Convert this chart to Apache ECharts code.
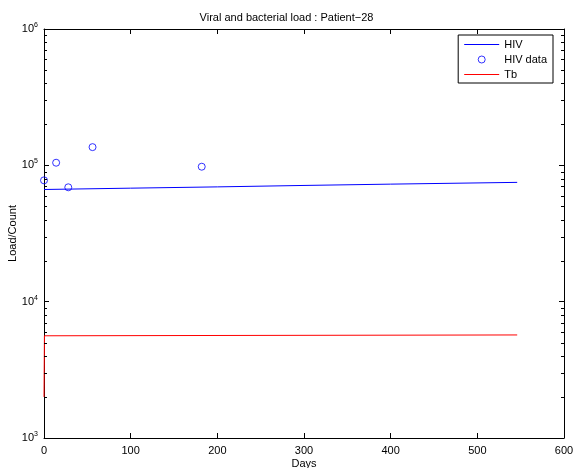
<!DOCTYPE html>
<html>
<head>
<meta charset="utf-8">
<script src="https://cdn.jsdelivr.net/npm/echarts@6/dist/echarts.min.js"></script>
<style>
  html, body { margin: 0; padding: 0; background: #fff; }
  #chart { width: 573px; height: 468px; }
</style>
</head>
<body>
<div id="chart"></div>
<script>
// model curve of HIV load (days, copies)
const hivDays = [0, 100, 200, 300, 400, 546]
const hivLoad = [66500, 68000, 69500, 71200, 72800, 75000]

// measured HIV points
const hivDataDays = [0, 14, 28, 56, 182]
const hivDataLoad = [77600, 104500, 69000, 136000, 97700]

// Tb model curve
const tbDays = [0, 0.5, 546]
const tbLoad = [2000, 5620, 5700]

// minor tick values on the log axis
const minorTicks = []
;[1000, 10000, 100000].forEach(d => {
  for (let k = 2; k <= 9; k++) minorTicks.push(k * d)
})

const font = 'Liberation Sans, Arial, Helvetica, sans-serif'

const pair = (xs, ys) => xs.map((x, i) => [x, ys[i]])

const chart = echarts.init(document.getElementById('chart'), null, { renderer: 'canvas' })

const commonY = {
  type: 'log',
  logBase: 10,
  min: 1000,
  max: 1000000,
  axisLine: { show: true, onZero: false, lineStyle: { color: '#000', width: 1 } },
  axisTick: { show: true, inside: true, length: 5, lineStyle: { color: '#000' } },
  splitLine: { show: false }
}
const commonX = {
  type: 'value',
  min: 0,
  max: 600,
  interval: 100,
  axisLine: { show: true, onZero: false, lineStyle: { color: '#000', width: 1 } },
  axisTick: { show: true, inside: true, length: 5, lineStyle: { color: '#000' } },
  splitLine: { show: false }
}

// thin bar used as legend icon for the line series
const lineIcon = 'path://M0,0h35v1h-35z'

chart.setOption({
  animation: false,
  backgroundColor: '#fff',
  textStyle: { fontFamily: font },
  title: {
    text: 'Viral and bacterial load : Patient\u221228',
    left: 'center',
    top: 7,
    textStyle: { fontSize: 11, fontWeight: 'normal', color: '#000', fontFamily: font }
  },
  grid: { left: 44, right: 9, top: 29, bottom: 30, containLabel: false, outerBoundsMode: 'none' },
  legend: {
    right: 20,
    top: 35,
    orient: 'vertical',
    itemWidth: 35,
    itemHeight: 7,
    itemGap: 4,
    padding: [4, 6, 3, 6],
    borderColor: '#000',
    borderWidth: 1,
    borderRadius: 0,
    backgroundColor: '#fff',
    textStyle: { fontSize: 11, color: '#000', fontFamily: font },
    data: [
      { name: 'HIV', icon: lineIcon },
      {
        name: 'HIV data',
        icon: 'circle',
        itemStyle: { color: 'rgba(0,0,0,0)', borderColor: '#0000ff', borderWidth: 1 }
      },
      { name: 'Tb', icon: lineIcon }
    ]
  },
  xAxis: [
    Object.assign({}, commonX, {
      position: 'bottom',
      name: 'Days',
      nameLocation: 'middle',
      nameGap: 20,
      nameMoveOverlap: false,
      nameTextStyle: { fontSize: 11, color: '#000' },
      axisLabel: { fontSize: 11, color: '#000', margin: 7 }
    }),
    Object.assign({}, commonX, { position: 'top', axisLabel: { show: false } })
  ],
  yAxis: [
    Object.assign({}, commonY, {
      position: 'left',
      name: 'Load/Count',
      nameLocation: 'middle',
      nameGap: 26,
      nameMoveOverlap: false,
      nameTextStyle: { fontSize: 11, color: '#000' },
      axisLabel: {
        color: '#000',
        fontSize: 11,
        margin: 6,
        formatter: v => '10{s|' + Math.round(Math.log10(v)) + '}',
        rich: { s: { fontSize: 7, verticalAlign: 'top', padding: [0, 0, 8, 0], color: '#000' } }
      }
    }),
    Object.assign({}, commonY, { position: 'right', axisLabel: { show: false } })
  ],
  series: [
    {
      name: 'HIV',
      type: 'line',
      data: pair(hivDays, hivLoad),
      showSymbol: false,
      symbol: 'none',
      lineStyle: { color: '#0000ff', width: 1 },
      itemStyle: { color: '#0000ff' },
      z: 3
    },
    {
      name: 'HIV data',
      type: 'scatter',
      data: pair(hivDataDays, hivDataLoad),
      symbol: 'circle',
      symbolSize: 7,
      itemStyle: { color: 'rgba(0,0,0,0)', borderColor: '#0000ff', borderWidth: 1 },
      z: 4
    },
    {
      name: 'Tb',
      type: 'line',
      data: pair(tbDays, tbLoad),
      showSymbol: false,
      symbol: 'none',
      lineStyle: { color: '#ff0000', width: 1 },
      itemStyle: { color: '#ff0000' },
      z: 3
    },
    {
      // minor ticks of the log axis, on both sides of the box
      name: 'minor',
      type: 'custom',
      silent: true,
      clip: false,
      data: minorTicks.flatMap(v => [[0, v, 0], [0, v, 1]]),
      renderItem: (params, api) => {
        const cs = params.coordSys
        const y = Math.round(api.coord([0, api.value(1)])[1]) + 0.5
        const x0 = api.value(2) === 0 ? cs.x : cs.x + cs.width - 3
        return {
          type: 'line',
          shape: { x1: x0, y1: y, x2: x0 + 3, y2: y },
          style: { stroke: '#000', lineWidth: 1 }
        }
      },
      z: 10
    }
  ]
})
</script>
</body>
</html>
